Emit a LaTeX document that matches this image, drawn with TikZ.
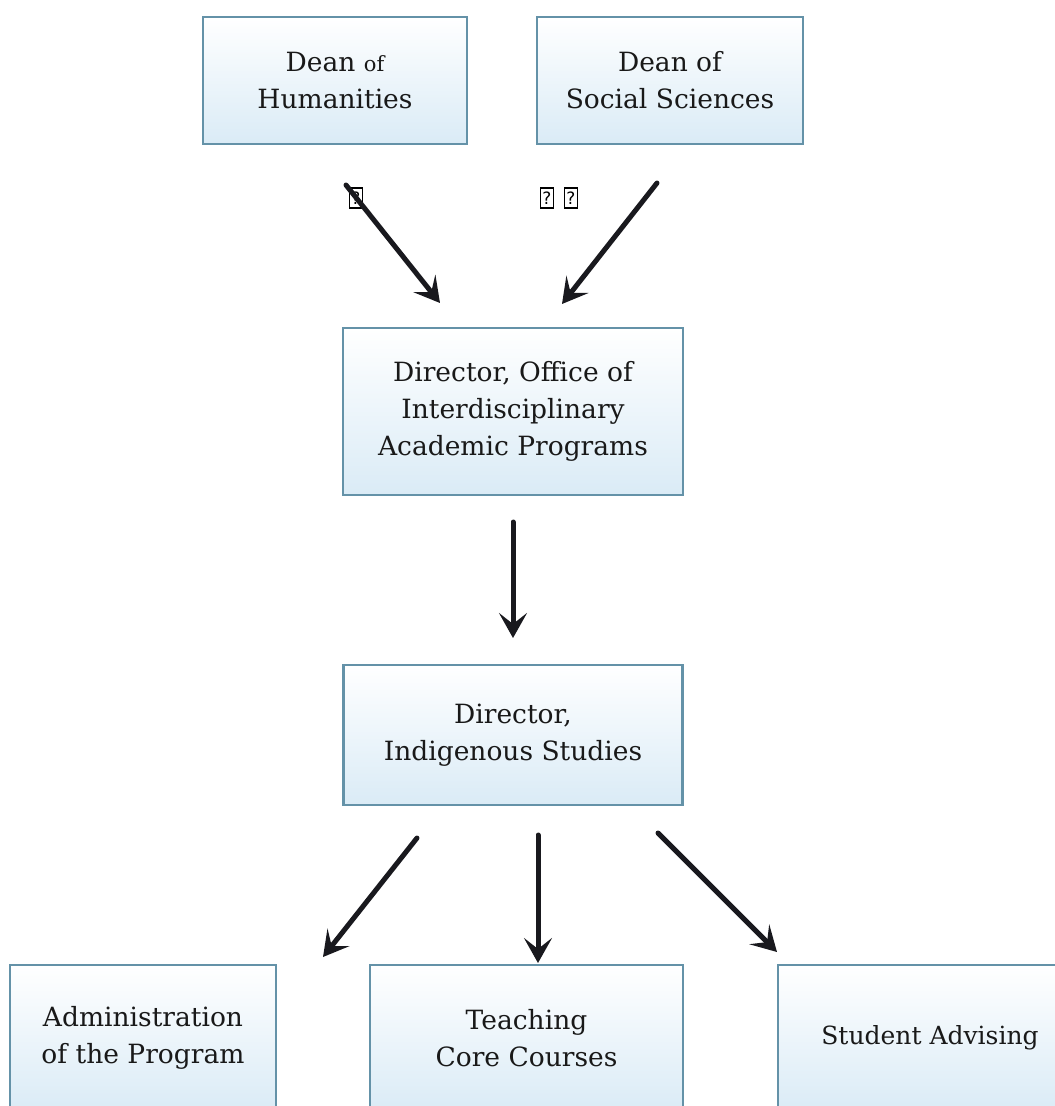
\documentclass[tikz,border=0pt]{standalone}
\usepackage{fontspec}
\setmainfont{DejaVu Serif}
\newfontfamily\qfont{DejaVu Sans}
\usetikzlibrary{arrows.meta}
\definecolor{boxborder}{RGB}{100,146,168}
\definecolor{boxfill}{RGB}{218,235,246}
\definecolor{arrowink}{RGB}{25,25,30}
\begin{document}
\begin{tikzpicture}[x=1pt,y=-1pt,
  orgbox/.style={draw=boxborder, line width=2.2pt, top color=white, bottom color=boxfill,
    align=center, inner sep=0pt, text=black!90, font=\fontsize{26.5}{37}\selectfont},
  flow/.style={draw=arrowink, line width=5pt, line cap=round,
    -{Stealth[length=25pt,width=28pt,inset=11pt]}},
  qbox/.style={draw, line width=1.3pt, minimum width=13pt, minimum height=20pt,
    inner sep=0pt, font=\qfont\fontsize{17}{17}\selectfont}]
\path[use as bounding box, fill=white] (0,0) rectangle (1055,1106);
\clip (0,0) rectangle (1055,1106);

% boxes
\node[orgbox, minimum width=264pt, minimum height=127pt] (hum) at (335,80.5)
  {Dean {\fontsize{21}{37}\selectfont of}\\Humanities};
\node[orgbox, minimum width=266pt, minimum height=127pt] (soc) at (670,80.5)
  {Dean of\\Social Sciences};
\node[orgbox, minimum width=340pt, minimum height=167pt] (dir) at (513,411.5)
  {Director, Office of\\Interdisciplinary\\Academic Programs};
\node[orgbox, minimum width=339pt, minimum height=140pt] (ind) at (513,735)
  {Director,\\Indigenous Studies};
\node[orgbox, minimum width=266pt, minimum height=146pt] (adm) at (143,1038)
  {Administration\\of the Program};
\node[orgbox, minimum width=313pt, minimum height=146pt] (tea) at (526.5,1038)
  {Teaching\\Core Courses};
\node[orgbox, minimum width=304pt, minimum height=146pt,
  font=\fontsize{25}{37}\selectfont] (stu) at (930,1038)
  {Student Advising};

% missing-glyph marks
\node[qbox] (q1) at (356,198) {?};
\node[qbox] (q2) at (547,198) {?};
\node[qbox] (q3) at (571,198) {?};

% arrow end points
\coordinate (a1s) at (346,185);  \coordinate (a1e) at (440,303);
\coordinate (a2s) at (657,183);  \coordinate (a2e) at (562,304);
\coordinate (a3s) at (513,522);  \coordinate (a3e) at (513,638);
\coordinate (a4s) at (417,838);  \coordinate (a4e) at (323,957);
\coordinate (a5s) at (538,835);  \coordinate (a5e) at (538,963);
\coordinate (a6s) at (658,833);  \coordinate (a6e) at (777,952);

\draw[flow] (a1s) -- (a1e);
\draw[flow] (a2s) -- (a2e);
\draw[flow] (a3s) -- (a3e);
\draw[flow] (a4s) -- (a4e);
\draw[flow] (a5s) -- (a5e);
\draw[flow] (a6s) -- (a6e);
\end{tikzpicture}
\end{document}
